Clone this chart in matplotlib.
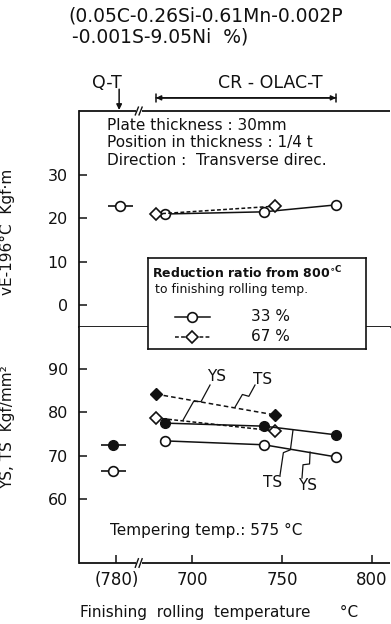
import numpy as np
import matplotlib
matplotlib.use("Agg")
from matplotlib import pyplot as plt

plt.rcParams['font.family'] = ['DejaVu Sans']
plt.rcParams['mathtext.default'] = 'regular'

INK = '#111111'

# Datos (temperatura de acabado, ºC). Q-T se dibuja en una posicion ficticia "(780)"
qt_pos = 658.0
qt_ticks = [qt_pos, 700, 750, 800]
qt_ticklabels = ["(780)", "700", "750", "800"]

# vE-196 (Kgf.m)
ve_qt = 22.8
ve33_T = [685, 740, 780]
ve33 = [21.0, 21.5, 23.1]
ve67_T = [680, 746]
ve67 = [21.0, 22.8]

# YS, TS (Kgf/mm2)
ts_qt = 72.4
ys_qt = 66.4
ts33_T = [685, 740, 780]
ts33 = [77.5, 76.8, 74.8]
ys33_T = [685, 740, 780]
ys33 = [73.4, 72.5, 69.7]
ts67_T = [680, 746]
ts67 = [84.2, 79.4]
ys67_T = [680, 746]
ys67 = [78.7, 75.7]

fig = plt.figure(figsize=(3.91, 6.24), dpi=100)
L = 79 / 391
R = 390 / 391
ax_top = fig.add_axes([L, 1 - 327 / 624, R - L, 216 / 624])
ax_bot = fig.add_axes([L, 1 - 563 / 624, R - L, 236 / 624])

xlim = (637.2, 810.0)
for ax in (ax_top, ax_bot):
    ax.set_xlim(*xlim)
    for s in ax.spines.values():
        s.set_color(INK)
        s.set_linewidth(1.3)
    ax.spines['right'].set_visible(False)
    ax.spines['top'].set_visible(False)
    ax.tick_params(axis='y', direction='in', length=6, width=1.1, pad=8,
                   labelsize=11.5, colors=INK)
ax_top.set_ylim(-5.08, 44.77)
ax_bot.set_ylim(45.2, 99.7)
ax_bot.spines['bottom'].set_visible(False)

ax_top.set_yticks([0, 10, 20, 30])
ax_top.set_xticks([])
ax_bot.set_yticks([60, 70, 80, 90])
ax_bot.set_xticks(qt_ticks)
ax_bot.set_xticklabels(qt_ticklabels)
ax_bot.tick_params(axis='x', direction='in', length=6, width=1.1, pad=6,
                   labelsize=12, colors=INK)

# ejes con rotura
brk = 0.192
def broken_line(ax, y):
    kw = dict(transform=ax.transAxes, color=INK, lw=1.3, clip_on=False,
              solid_capstyle='butt')
    ax.plot([0, brk - 0.008], [y, y], **kw)
    ax.plot([brk + 0.012, 1], [y, y], **kw)
    for dx in (-0.006, 0.006):
        ax.plot([brk + dx - 0.005, brk + dx + 0.005], [y - 0.018, y + 0.018],
                transform=ax.transAxes, color=INK, lw=1.0, clip_on=False)

broken_line(ax_top, 1.0)
broken_line(ax_bot, 0.0)

# panel superior
lkw = dict(color=INK, lw=1.1)
ax_top.plot([qt_pos + 2], [ve_qt], marker='_', ms=18, mew=1.2, color=INK)
ax_top.plot([qt_pos + 2], [ve_qt], 'o', ms=7, mfc='white', mec=INK, mew=1.2)
ax_top.plot(ve33_T, ve33, '-', marker='o', ms=7, mfc='white', mec=INK, mew=1.2, **lkw)
ax_top.plot(ve67_T, ve67, '--', marker='D', ms=6.5, mfc='white', mec=INK, mew=1.2,
            dashes=(2.5, 1.5), **lkw)

tkw = dict(fontsize=11, color=INK, ha='left', va='center')
ax_top.text(652.8, 41.5, "Plate thickness : 30mm", **tkw)
ax_top.text(652.8, 37.4, "Position in thickness : 1/4 t", **tkw)
ax_top.text(652.8, 33.4, "Direction :  Transverse direc.", **tkw)

# encabezados sobre el panel
ax_top.text(652.8, 51.2, "Q-T", fontsize=12.5, color=INK, ha='center', va='center',
            clip_on=False)
ax_top.annotate("", xy=(659.5, 45.0), xytext=(659.5, 49.8),
                arrowprops=dict(arrowstyle='-|>', color=INK, lw=1.1,
                                mutation_scale=8, shrinkA=0, shrinkB=0),
                annotation_clip=False)
ax_top.text(743.3, 51.2, "CR - OLAC-T", fontsize=12.5, color=INK, ha='center',
            va='center', clip_on=False)
crT = [min(ts67_T), max(ts33_T)]
ax_top.annotate("", xy=(crT[0], 47.8), xytext=(crT[1], 47.8),
                arrowprops=dict(arrowstyle='|-|', color=INK, lw=1.1,
                                mutation_scale=3, shrinkA=0, shrinkB=0),
                annotation_clip=False)
ax_top.annotate("", xy=(crT[0], 47.8), xytext=(crT[1], 47.8),
                arrowprops=dict(arrowstyle='<|-|>', color=INK, lw=1.1,
                                mutation_scale=7, shrinkA=0, shrinkB=0),
                annotation_clip=False)

# panel inferior
ax_bot.plot([qt_pos - 2], [ts_qt], marker='_', ms=18, mew=1.2, color=INK)
ax_bot.plot([qt_pos - 2], [ts_qt], 'o', ms=7, mfc=INK, mec=INK)
ax_bot.plot([qt_pos - 2], [ys_qt], marker='_', ms=18, mew=1.2, color=INK)
ax_bot.plot([qt_pos - 2], [ys_qt], 'o', ms=7, mfc='white', mec=INK, mew=1.2)

ax_bot.plot(ts67_T, ts67, '--', marker='D', ms=6.5, mfc=INK, mec=INK,
            dashes=(3, 2), **lkw)
ax_bot.plot(ys67_T, ys67, '--', marker='D', ms=6.5, mfc='white', mec=INK, mew=1.2,
            dashes=(2.5, 1.5), **lkw)
ax_bot.plot(ts33_T, ts33, '-', marker='o', ms=7, mfc=INK, mec=INK, **lkw)
ax_bot.plot(ys33_T, ys33, '-', marker='o', ms=7, mfc='white', mec=INK, mew=1.2, **lkw)

# lineas guia con quiebro
sx, sy = 1.8, 4.333  # px por unidad
def leader(ax, p0, p1, jog=3.0):
    x0, y0 = p0[0] * sx, p0[1] * sy
    x1, y1 = p1[0] * sx, p1[1] * sy
    dx, dy = x1 - x0, y1 - y0
    n = np.hypot(dx, dy)
    px, py = -dy / n * jog, dx / n * jog
    pts = [(x0, y0),
           (x0 + 0.42 * dx + px, y0 + 0.42 * dy + py),
           (x0 + 0.52 * dx - px, y0 + 0.52 * dy - py),
           (x1, y1)]
    xs = [p[0] / sx for p in pts]
    ys = [p[1] / sy for p in pts]
    ax.plot(xs, ys, color=INK, lw=0.9)

leader(ax_bot, (710.0, 86.3), (695.0, 78.2))
leader(ax_bot, (735.0, 86.3), (723.9, 81.2))
leader(ax_bot, (756.1, 75.9), (748.9, 65.5))
leader(ax_bot, (765.6, 70.8), (761.1, 64.8))

akw = dict(fontsize=11, color=INK, ha='center', va='center')
ax_bot.text(713.9, 88.2, "YS", **akw)
ax_bot.text(739.4, 87.5, "TS", **akw)
ax_bot.text(745.0, 63.7, "TS", **akw)
ax_bot.text(764.4, 63.2, "YS", **akw)

ax_bot.text(654.4, 52.8, "Tempering temp.: 575 °C", fontsize=11, color=INK,
            ha='left', va='center')

# etiquetas de ejes
ax_top.set_ylabel("vE-196°C  Kgf·m", fontsize=11, color=INK)
ax_top.yaxis.set_label_coords(-0.205, 0.44)
ax_bot.set_ylabel("YS, TS  Kgf/mm²", fontsize=11, color=INK)
ax_bot.yaxis.set_label_coords(-0.205, 0.576)
ax_bot.set_xlabel("Finishing  rolling  temperature      °C", fontsize=11, color=INK)
ax_bot.xaxis.set_label_coords(0.45, -0.18)

# composicion
fig.text(68 / 391, 1 - 16 / 624, "(0.05C-0.26Si-0.61Mn-0.002P", fontsize=13.5,
         color=INK, ha='left', va='center')
fig.text(72 / 391, 1 - 37 / 624, "-0.001S-9.05Ni  %)", fontsize=13.5,
         color=INK, ha='left', va='center')

# leyenda (recuadro sobre la separacion)
ax_leg = fig.add_axes([148 / 391, 1 - 349 / 624, 218 / 391, 91 / 624], zorder=5)
ax_leg.set_xlim(0, 1)
ax_leg.set_ylim(0, 1)
ax_leg.set_xticks([])
ax_leg.set_yticks([])
for s in ax_leg.spines.values():
    s.set_color(INK)
    s.set_linewidth(1.2)
ax_leg.text(0.018, 0.83, "Reduction ratio from 800$^{\\circ C}$", fontsize=9,
            fontweight='bold', color=INK, ha='left', va='center')
ax_leg.text(0.032, 0.655, "to finishing rolling temp.", fontsize=9, color=INK,
            ha='left', va='center')
ax_leg.plot([0.124, 0.284], [0.352, 0.352], '-', color=INK, lw=1.1)
ax_leg.plot([0.202], [0.352], 'o', ms=7, mfc='white', mec=INK, mew=1.2)
ax_leg.plot([0.124, 0.284], [0.132, 0.132], '--', color=INK, lw=1.1, dashes=(2.5, 1.5))
ax_leg.plot([0.202], [0.132], 'D', ms=6.5, mfc='white', mec=INK, mew=1.2)
ax_leg.text(0.472, 0.352, "33 %", fontsize=11, color=INK, ha='left', va='center')
ax_leg.text(0.472, 0.132, "67 %", fontsize=11, color=INK, ha='left', va='center')

fig.savefig("out.png", dpi=100)
